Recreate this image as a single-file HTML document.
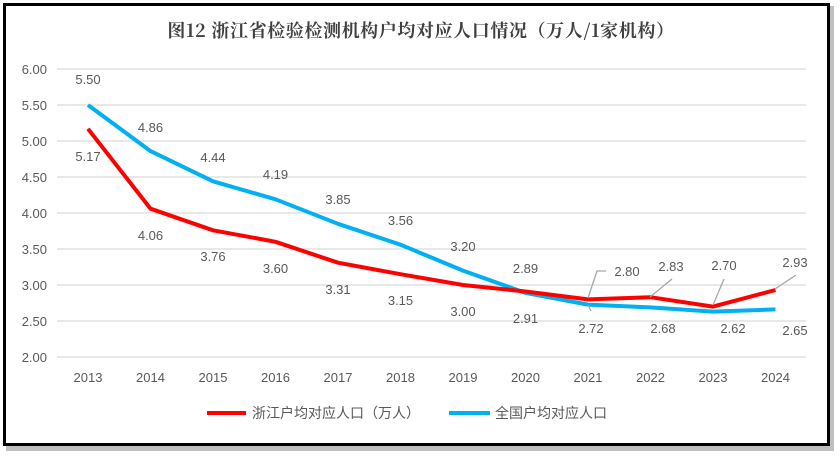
<!DOCTYPE html>
<html><head><meta charset="utf-8"><style>
body{margin:0;background:#fff}
svg text{font-family:"Liberation Sans","Noto Sans CJK SC",sans-serif;fill:#595959}
</style></head><body>
<svg width="840" height="455" viewBox="0 0 840 455" xmlns="http://www.w3.org/2000/svg">
<rect x="6" y="6" width="828" height="445" fill="#bfbfbf"/>
<rect x="4.5" y="4.5" width="824" height="440" fill="#fff" stroke="#000" stroke-width="3"/>
<text x="421" y="37" text-anchor="middle" font-size="18" font-weight="bold" letter-spacing="0.6" style="font-family:'Noto Serif CJK SC','Liberation Serif',serif;fill:#404040">图12  浙江省检验检测机构户均对应人口情况（万人/1家机构）</text>
<g stroke="#d9d9d9" stroke-width="1.3">
<line x1="57" x2="806" y1="69" y2="69"/><line x1="57" x2="806" y1="105" y2="105"/><line x1="57" x2="806" y1="141" y2="141"/><line x1="57" x2="806" y1="177" y2="177"/><line x1="57" x2="806" y1="213" y2="213"/><line x1="57" x2="806" y1="249" y2="249"/><line x1="57" x2="806" y1="285" y2="285"/><line x1="57" x2="806" y1="321" y2="321"/><line x1="57" x2="806" y1="357" y2="357"/>
</g>
<g font-size="13" text-anchor="end">
<text x="47" y="74">6.00</text><text x="47" y="110">5.50</text><text x="47" y="146">5.00</text><text x="47" y="182">4.50</text><text x="47" y="218">4.00</text><text x="47" y="254">3.50</text><text x="47" y="290">3.00</text><text x="47" y="326">2.50</text><text x="47" y="362">2.00</text>
</g>
<g font-size="13" text-anchor="middle">
<text x="88" y="382">2013</text><text x="150.5" y="382">2014</text><text x="213" y="382">2015</text><text x="275.5" y="382">2016</text><text x="338" y="382">2017</text><text x="400.5" y="382">2018</text><text x="463" y="382">2019</text><text x="525.5" y="382">2020</text><text x="588" y="382">2021</text><text x="650.5" y="382">2022</text><text x="713" y="382">2023</text><text x="775.5" y="382">2024</text>
</g>
<polyline fill="none" stroke="#00b0f0" stroke-width="4" stroke-linejoin="round" points="88,105 150.5,151.1 213,181.3 275.5,199.3 338,223.8 400.5,244.7 463,270.6 525.5,292.9 588,304.6 650.5,307.4 713,311.6 775.5,309.4"/>
<polyline fill="none" stroke="#ff0000" stroke-width="4" stroke-linejoin="round" points="88,128.8 150.5,208.7 213,230.3 275.5,241.8 338,262.7 400.5,274.2 463,285 525.5,291.5 588,299.4 650.5,297.2 713,306.6 775.5,290"/>
<g stroke="#a6a6a6" stroke-width="1.3" fill="none">
<polyline points="588,298 597,271 606,271"/>
<line x1="650" y1="297" x2="672" y2="279"/>
<line x1="713" y1="305" x2="724" y2="279"/>
<line x1="775" y1="289" x2="796" y2="275"/>
<line x1="588" y1="305" x2="591" y2="311"/>
</g>
<g font-size="13" text-anchor="middle">
<text x="88" y="84">5.50</text><text x="150.5" y="132">4.86</text><text x="213" y="162">4.44</text><text x="275.5" y="179">4.19</text><text x="338" y="204">3.85</text><text x="400.5" y="225">3.56</text><text x="463" y="251">3.20</text><text x="525.5" y="273">2.89</text>
<text x="88" y="161">5.17</text><text x="150.5" y="240">4.06</text><text x="213" y="261">3.76</text><text x="275.5" y="273">3.60</text><text x="338" y="294">3.31</text><text x="400.5" y="305">3.15</text><text x="463" y="316">3.00</text><text x="525.5" y="323">2.91</text>
<text x="627" y="276">2.80</text><text x="671" y="271">2.83</text><text x="724" y="270">2.70</text><text x="795" y="267">2.93</text>
<text x="591" y="333">2.72</text><text x="663" y="333">2.68</text><text x="733" y="333">2.62</text><text x="795" y="335">2.65</text>
</g>
<line x1="207" y1="413" x2="246" y2="413" stroke="#ff0000" stroke-width="4"/>
<text x="252" y="418" font-size="14">浙江户均对应人口（万人）</text>
<line x1="449" y1="413" x2="490" y2="413" stroke="#00b0f0" stroke-width="4"/>
<text x="495" y="418" font-size="14">全国户均对应人口</text>
</svg>
</body></html>
